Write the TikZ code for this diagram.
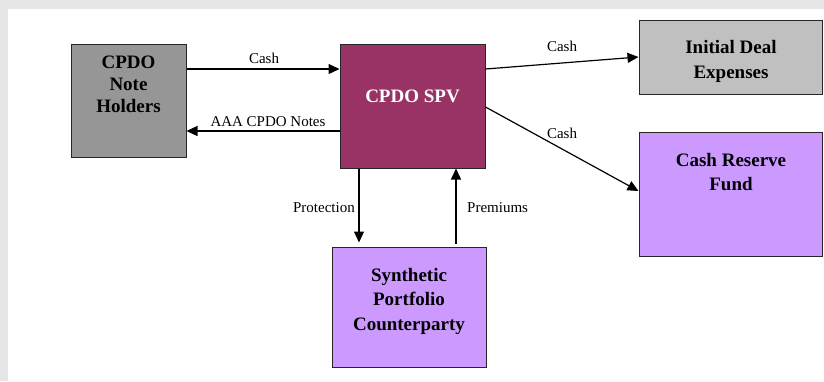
\documentclass[tikz,border=0pt]{standalone}
\usepackage{fontspec}
\setmainfont{Liberation Serif}
\usetikzlibrary{arrows.meta}
\definecolor{framegray}{HTML}{E6E6E6}
\definecolor{holdgray}{HTML}{969696}
\definecolor{spvred}{HTML}{993366}
\definecolor{initgray}{HTML}{C0C0C0}
\definecolor{lilac}{HTML}{CC99FF}
\begin{document}
\begin{tikzpicture}[x=1pt,y=-1pt,
  box/.style={draw=black!85, line width=1pt, inner sep=0pt},
  boxtext/.style={font=\fontsize{19}{22}\selectfont\bfseries, align=center, anchor=base, inner sep=0pt},
  lbl/.style={font=\fontsize{15}{18}\selectfont, inner sep=0pt},
  arr/.style={line width=1.2pt, -{Triangle[length=11pt,width=10pt]}}]
\useasboundingbox (0,0) rectangle (824,381);
\fill[framegray] (0,0) rectangle (824,381);
\fill[white] (8,9) rectangle (824,381);

% boxes
\node[box, fill=holdgray, minimum width=115pt, minimum height=113pt] (holders) at (128.5,100.5) {};
\node[box, fill=spvred, minimum width=145pt, minimum height=124pt] (spv) at (412.5,106) {};
\node[box, fill=initgray, minimum width=183pt, minimum height=74pt] (init) at (730.5,57) {};
\node[box, fill=lilac, minimum width=183pt, minimum height=124pt] (reserve) at (730.5,194) {};
\node[box, fill=lilac, minimum width=154pt, minimum height=120pt] (synth) at (409,307) {};

% box texts (anchor base = baseline of last line)
\node[boxtext] (holderst) at (128.5,112) {CPDO\\Note\\Holders};
\node[boxtext, text=white] (spvt) at (412.5,102) {CPDO SPV};
\node[boxtext, font=\fontsize{19}{25}\selectfont\bfseries] (initt) at (731,78.5) {Initial Deal\\Expenses};
\node[boxtext, font=\fontsize{19}{24}\selectfont\bfseries] (reservet) at (731,190) {Cash Reserve\\Fund};
\node[boxtext, font=\fontsize{19}{24.5}\selectfont\bfseries] (syntht) at (409,330) {Synthetic\\Portfolio\\Counterparty};

% connectors
\draw[arr] (holders.east |- 0,69) -- (spv.west |- 0,69);
\draw[arr] (spv.west |- 0,131) -- (holders.east |- 0,131);
\draw[arr] (spv.east |- 0,69) -- (init.west |- 0,57);
\draw[arr] (spv.east |- 0,107) -- (reserve.west |- 0,191);
\draw[arr, shorten >=4pt] (spv.south -| 359,0) -- (synth.north -| 359,0);
\draw[arr, shorten <=3pt] (synth.north -| 456,0) -- (spv.south -| 456,0);

% labels
\node[lbl, anchor=base] (l1) at (264,63) {Cash};
\node[lbl, anchor=base] (l2) at (268,126) {AAA CPDO Notes};
\node[lbl, anchor=base] (l3) at (562,51) {Cash};
\node[lbl, anchor=base] (l4) at (562,138) {Cash};
\node[lbl, anchor=base east] (l5) at (355,212) {Protection};
\node[lbl, anchor=base west] (l6) at (467,212) {Premiums};
\end{tikzpicture}
\end{document}
